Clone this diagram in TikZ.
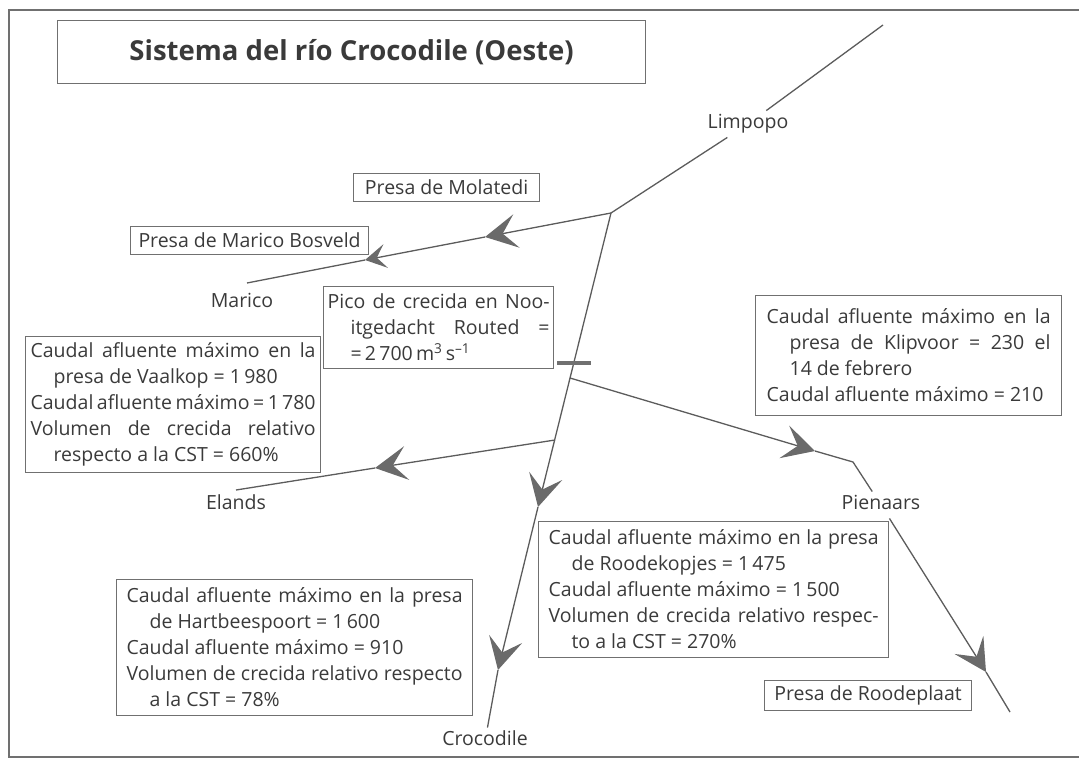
\documentclass[tikz,border=0pt]{standalone}
\usepackage{fontspec}
\setmainfont{Open Sans}
\usepackage{xcolor}
\usetikzlibrary{arrows.meta,positioning,calc}
\definecolor{ink}{HTML}{3A3A3A}
\definecolor{riverline}{HTML}{5C5C5C}
\definecolor{tipfill}{HTML}{6A6A6A}
\definecolor{boxline}{HTML}{707070}
\newcommand{\hangpar}{\par\noindent\hangindent=23pt\hangafter=1\relax}

\begin{document}
\begin{tikzpicture}[x=1pt,y=-1pt,
  font=\fontsize{19.5}{26}\selectfont, text=ink,
  river/.style={draw=riverline, line width=1.3pt},
  bigtip/.style={-{Stealth[length=32pt,width=34pt,inset=14pt,color=tipfill,fill=tipfill]}},
  smalltip/.style={-{Stealth[length=21pt,width=24pt,inset=9pt,color=tipfill,fill=tipfill]}},
  databox/.style={draw=boxline, line width=1.2pt, anchor=north west, inner ysep=4pt},
  tagbox/.style={draw=boxline, line width=1.2pt, anchor=north west, inner sep=0pt, minimum height=28pt},
  rivername/.style={inner sep=4pt, text height=14pt, text depth=4.5pt},
  gaugebar/.style={draw=boxline, line width=4pt}]
  \useasboundingbox (0,0) rectangle (1079,763);
  \draw[boxline, line width=1.2pt] (1079,10) -- (9,10) -- (9,757) -- (1079,757);
  % boxes
  \node[tagbox, minimum width=588pt, minimum height=63pt,
        font=\fontsize{27.5}{32}\selectfont\bfseries] (title) at (57,20)
        {Sistema del río Crocodile (Oeste)};
  \node[tagbox, minimum width=186pt] (molatedi) at (353,173) {Presa de Molatedi};
  \node[tagbox, minimum width=238pt] (bosveld) at (130,226) {Presa de Marico Bosveld};
  \node[tagbox, minimum width=207pt, minimum height=30pt] (roodeplaat) at (764,680)
        {Presa de Roodeplaat};
  \node[databox, inner xsep=4pt, minimum height=82pt] (pico) at (323,286)
        {\parbox{222pt}{\hangpar Pico de crecida en Noo-\linebreak itgedacht Routed =\linebreak
         =\,2\,700\,m\textsuperscript{3}\,s\textsuperscript{–1}}};
  \node[databox, inner xsep=5pt, minimum height=136pt] (vaalkop) at (25,336)
        {\parbox{285pt}{\hangpar Caudal afluente máximo en la\linebreak presa de Vaalkop = 1\,980
         \hangpar Caudal afluente máximo = 1\,780
         \hangpar Volumen de crecida relativo\linebreak respecto a la CST = 660\%}};
  \node[databox, inner xsep=11pt, minimum height=120pt] (klipvoor) at (755,295)
        {\parbox{284pt}{\hangpar Caudal afluente máximo en la\linebreak presa de Klipvoor = 230 el\linebreak
         14 de febrero
         \hangpar Caudal afluente máximo = 210}};
  \node[databox, inner xsep=10pt, minimum height=136pt] (roodekopjes) at (538,521)
        {\parbox{330pt}{\hangpar Caudal afluente máximo en la presa\linebreak de Roodekopjes = 1\,475
         \hangpar Caudal afluente máximo = 1\,500
         \hangpar Volumen de crecida relativo respec-\linebreak to a la CST = 270\%}};
  \node[databox, inner xsep=10pt, minimum height=136pt] (hartbees) at (116,579)
        {\parbox{336pt}{\hangpar Caudal afluente máximo en la presa\linebreak de Hartbeespoort = 1\,600
         \hangpar Caudal afluente máximo = 910
         \hangpar Volumen de crecida relativo respecto\linebreak a la CST = 78\%}};
  % river names
  \node[rivername] (limpopo) at (748,124) {Limpopo};
  \node[rivername] (marico) at (242,303) {Marico};
  \node[rivername] (elands) at (236,505) {Elands};
  \node[rivername] (pienaars) at (881,505) {Pienaars};
  \node[rivername] (crocodile) at (485,741) {Crocodile};
  % river course
  \coordinate (limtop) at (883,25);
  \coordinate (junc) at (611,213);
  \coordinate (molTip) at (485,237);
  \coordinate (marTip) at (365,260);
  \coordinate (maricoEnd) at (247,283);
  \coordinate (gauge) at (574,363);
  \coordinate (pienStart) at (570,378);
  \coordinate (pienTip) at (815,451);
  \coordinate (pienBend) at (853,462);
  \coordinate (roodTip) at (986,672);
  \coordinate (roodEnd) at (1010,712);
  \coordinate (elandsStart) at (555,440);
  \coordinate (elandsTip) at (375,468);
  \coordinate (elandsEnd) at (236,490);
  \coordinate (crocTipA) at (538,507);
  \coordinate (crocTipB) at (498,670);
  \draw[river] (limtop) -- (limpopo);
  \draw[river] (limpopo) -- (junc);
  \draw[river,bigtip] (junc) -- (molTip);
  \draw[river,smalltip] (molTip) -- (marTip);
  \draw[river] (marTip) -- (maricoEnd);
  \draw[river,bigtip] (junc) -- (crocTipA);
  \draw[river,bigtip] (crocTipA) -- (crocTipB);
  \draw[river] (crocTipB) -- (crocodile);
  \draw[river,bigtip] (pienStart) -- (pienTip);
  \draw[river] (pienTip) -- (pienBend) -- (pienaars);
  \draw[river,bigtip] (pienaars) -- (roodTip);
  \draw[river] (roodTip) -- (roodEnd);
  \draw[river,bigtip] (elandsStart) -- (elandsTip);
  \draw[river] (elandsTip) -- (elandsEnd);
  \draw[gaugebar] ([xshift=-17pt]gauge) -- ([xshift=17pt]gauge);
\end{tikzpicture}
\end{document}
